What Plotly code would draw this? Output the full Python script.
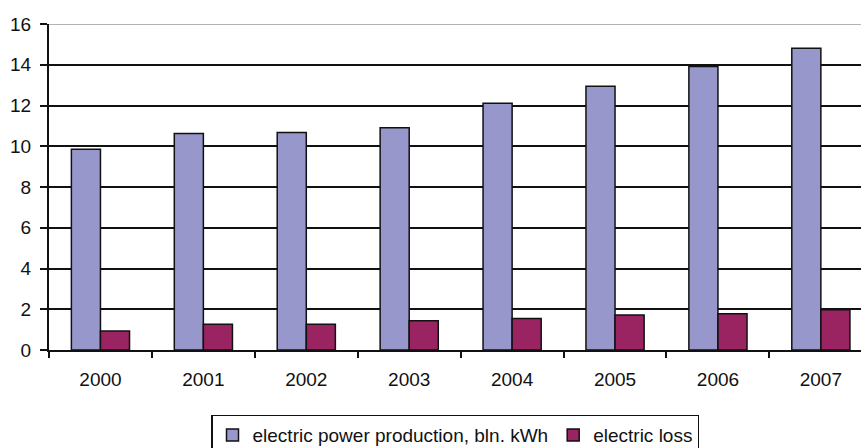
import plotly.graph_objects as go

years = ["2000", "2001", "2002", "2003", "2004", "2005", "2006", "2007"]
production = [9.85, 10.62, 10.68, 10.91, 12.11, 12.94, 13.92, 14.81]
loss = [0.93, 1.26, 1.26, 1.44, 1.55, 1.72, 1.78, 1.98]
y_ticks = [0, 2, 4, 6, 8, 10, 12, 14, 16]

FONT = "Liberation Sans, Arial, sans-serif"

fig = go.Figure()
fig.add_trace(go.Bar(
    x=years, y=production, name="electric power production, bln. kWh",
    marker=dict(color="#9797CB", line=dict(color="#111111", width=1.5)),
))
fig.add_trace(go.Bar(
    x=years, y=loss, name="electric loss",
    marker=dict(color="#9A2462", line=dict(color="#111111", width=1.5)),
))

# grey frame line along the top of the plotting area
fig.add_shape(type="line", xref="paper", yref="y", x0=0, x1=1, y0=16, y1=16,
              line=dict(color="#9a9a9a", width=1.5), layer="below")

fig.update_layout(
    width=861, height=448,
    margin=dict(l=49, r=0, t=24, b=98, autoexpand=False),
    paper_bgcolor="white", plot_bgcolor="white",
    barmode="group", bargap=0.435, bargroupgap=0,
    font=dict(family=FONT, size=19, color="#111111"),
    showlegend=True,
    legend=dict(
        orientation="h", x=0.5, xanchor="center", y=-0.198, yanchor="top",
        bordercolor="#111111", borderwidth=1.5, bgcolor="white",
        font=dict(family=FONT, size=19, color="#111111"),
        itemwidth=30, traceorder="normal", tracegroupgap=0,
    ),
)
fig.update_xaxes(
    type="category", range=[-0.5, 7.39],
    showline=True, linecolor="#111111", linewidth=2,
    ticks="outside", tickson="boundaries", ticklen=6, tickwidth=2, tickcolor="#111111",
    showgrid=False, tickfont=dict(family=FONT, size=19), ticklabelstandoff=11,
)
fig.update_yaxes(
    range=[0, 16], tickvals=y_ticks,
    showline=True, linecolor="#111111", linewidth=2,
    ticks="outside", ticklen=7, tickwidth=2, tickcolor="#111111",
    showgrid=True, gridcolor="#111111", gridwidth=1.5,
    zeroline=False, tickfont=dict(family=FONT, size=19), ticklabelstandoff=5,
)

fig.write_html("out.html")
